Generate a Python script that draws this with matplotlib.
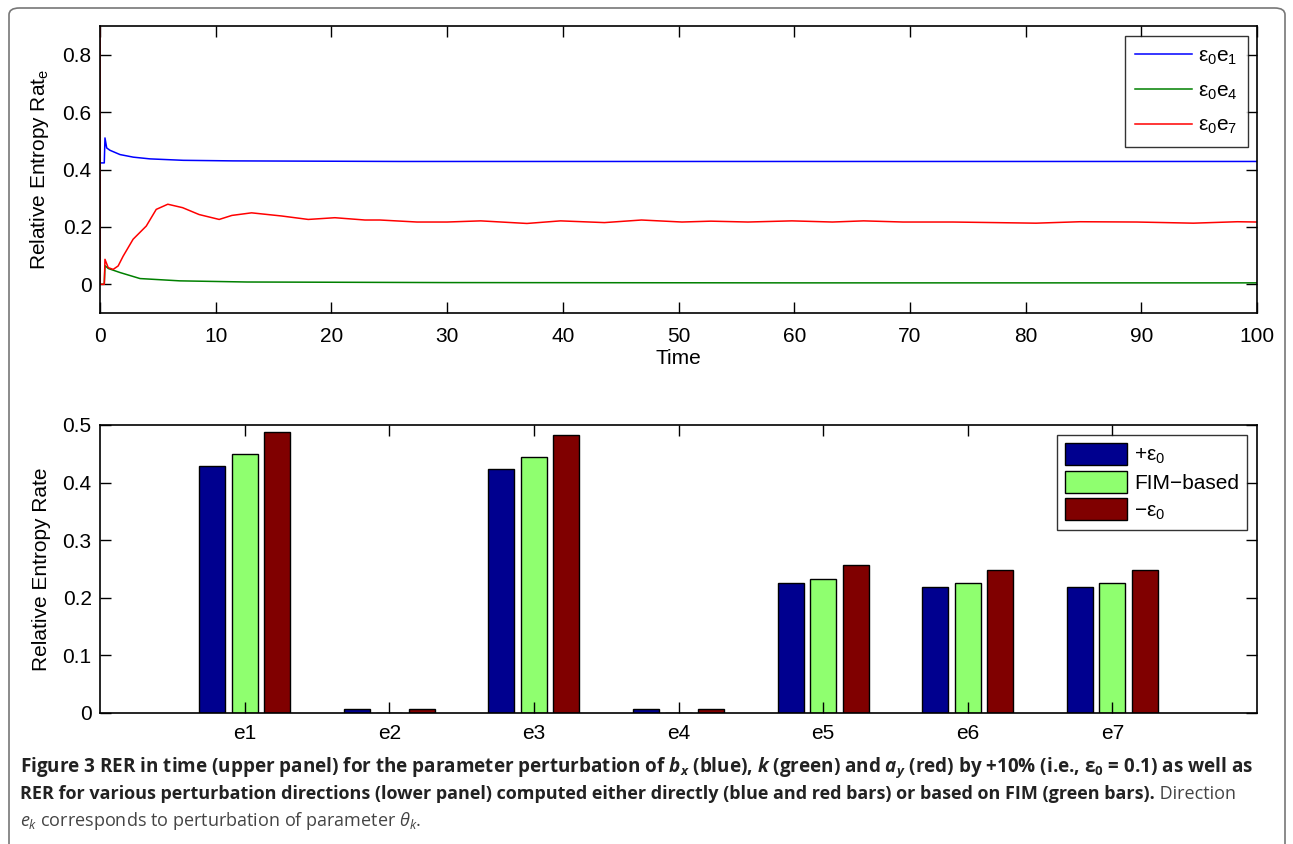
import numpy as np
import matplotlib
matplotlib.use("Agg")
import matplotlib.pyplot as plt
from matplotlib.patches import FancyBboxPatch

plt.rcParams['font.family'] = ['Liberation Sans', 'DejaVu Sans']
plt.rcParams['mathtext.default'] = 'regular'
plt.rcParams['mathtext.fontset'] = 'custom'
plt.rcParams['mathtext.rm'] = 'Open Sans'
plt.rcParams['mathtext.it'] = 'Open Sans:italic'
plt.rcParams['mathtext.bf'] = 'Open Sans:bold'
plt.rcParams['mathtext.bfit'] = 'Open Sans:italic:bold'

# upper panel: RER in time
t_blue = [0, 0.37, 0.43, 0.58, 0.86, 1.73, 2.88, 4.32, 7.2, 11.5, 25.9, 50, 75, 100]
v_blue = [0.423, 0.423, 0.510, 0.475, 0.467, 0.452, 0.443, 0.437, 0.432, 0.430, 0.428, 0.428, 0.428, 0.428]

t_green = [0, 0.37, 0.43, 0.72, 1.73, 3.46, 6.9, 12.7, 30, 60, 100]
v_green = [0, 0, 0.065, 0.055, 0.041, 0.020, 0.012, 0.008, 0.006, 0.005, 0.005]

t_red = [0, 0.02, 0.37, 0.43, 0.71, 1.14, 1.57, 2.0, 2.86, 4.0, 4.86, 5.86, 7.14, 8.57,
         10.3, 11.4, 13.1, 15.7, 18.0, 20.3, 22.9, 24.2, 27.4, 30.0, 32.9, 36.9, 39.8,
         43.6, 46.8, 50.3, 52.8, 56.0, 59.8, 63.3, 66.0, 69.4, 73.7, 80.9, 84.7, 89.6,
         94.5, 98.3, 100]
v_red = [1.2, 0, 0, 0.087, 0.058, 0.052, 0.064, 0.098, 0.157, 0.203, 0.261, 0.279, 0.267,
         0.243, 0.226, 0.240, 0.249, 0.238, 0.226, 0.232, 0.224, 0.224, 0.217, 0.217, 0.221,
         0.212, 0.221, 0.215, 0.224, 0.217, 0.220, 0.217, 0.221, 0.217, 0.221, 0.217, 0.217,
         0.213, 0.218, 0.217, 0.213, 0.218, 0.217]

# lower panel: RER per perturbation direction
directions = ['e1', 'e2', 'e3', 'e4', 'e5', 'e6', 'e7']
rer_plus = [0.428, 0.007, 0.423, 0.007, 0.226, 0.218, 0.218]
rer_fim = [0.450, 0.0, 0.444, 0.0, 0.233, 0.225, 0.225]
rer_minus = [0.488, 0.007, 0.483, 0.007, 0.257, 0.248, 0.248]

fig = plt.figure(figsize=(12.93, 8.44), dpi=100)

# outer frame of the figure box
frame = FancyBboxPatch((9 / 1293, -0.05), 1276 / 1293, 1.05 - 8 / 844,
                       boxstyle="round,pad=0,rounding_size=0.008",
                       transform=fig.transFigure, fc='none', ec='#777777', lw=1.2)
fig.patches.append(frame)

tick_kw = dict(direction='in', length=8, width=1, labelsize=15,
               top=True, right=True)

ax1 = fig.add_axes([100 / 1293, 1 - 313 / 844, 1157 / 1293, 287 / 844])
ax1.plot(t_blue, v_blue, color='#0000ff', lw=1.1, label='ε$_0$e$_1$')
ax1.plot(t_green, v_green, color='#008000', lw=1.1, label='ε$_0$e$_4$')
ax1.plot(t_red, v_red, color='#ff0000', lw=1.1, label='ε$_0$e$_7$')
ax1.set_xlim(0, 100)
ax1.set_ylim(-0.1, 0.9)
ax1.set_xticks(np.arange(0, 101, 10))
ax1.set_yticks([0, 0.2, 0.4, 0.6, 0.8])
ax1.set_yticklabels(['0', '0.2', '0.4', '0.6', '0.8'])
ax1.tick_params(axis='x', pad=10, **tick_kw)
ax1.tick_params(axis='y', pad=6, **tick_kw)
ax1.set_xlabel('Time', fontsize=15, labelpad=2)
ax1.set_ylabel('Relative Entropy Rat$_e$', fontsize=15, labelpad=8)
leg1 = ax1.legend(loc='upper right', fontsize=15, frameon=True, fancybox=False,
                  edgecolor='black', handlelength=2.7, borderpad=0.5, labelspacing=0.7,
                  handletextpad=0.3, borderaxespad=0,
                  bbox_to_anchor=((1248 - 100) / 1157, (313 - 36) / 287))
leg1.get_frame().set_linewidth(1)
for sp in ax1.spines.values():
    sp.set_linewidth(1.2)

ax2 = fig.add_axes([100 / 1293, 1 - 713 / 844, 1157 / 1293, 288 / 844])
x = np.arange(1, len(directions) + 1)
w = 0.18
ax2.bar(x - 0.225, rer_plus, w, color='#00008f', edgecolor='black', lw=1, label='+ε$_0$')
ax2.bar(x, rer_fim, w, color='#8fff6f', edgecolor='black', lw=1, label='FIM\u2212based')
ax2.bar(x + 0.225, rer_minus, w, color='#800000', edgecolor='black', lw=1, label='\u2212ε$_0$')
ax2.set_xlim(0, 8)
ax2.set_ylim(0, 0.5)
ax2.set_xticks(x)
ax2.set_xticklabels(directions)
ax2.set_yticks([0, 0.1, 0.2, 0.3, 0.4, 0.5])
ax2.set_yticklabels(['0', '0.1', '0.2', '0.3', '0.4', '0.5'])
ax2.tick_params(axis='x', pad=8, **tick_kw)
ax2.tick_params(axis='y', pad=6, **tick_kw)
ax2.set_ylabel('Relative Entropy Rate', fontsize=15, labelpad=8)
leg2 = ax2.legend(loc='upper right', fontsize=15, frameon=True, fancybox=False,
                  edgecolor='black', handlelength=3.0, handleheight=1.25,
                  borderpad=0.38, labelspacing=0.24, handletextpad=0.33, borderaxespad=0,
                  bbox_to_anchor=((1247 - 100) / 1157, (713 - 435) / 288))
leg2.get_frame().set_linewidth(1)
for sp in ax2.spines.values():
    sp.set_linewidth(1.2)

# caption
cap_font = ['Open Sans', 'DejaVu Sans']
x0 = 20 / 1293
fig.text(x0, 1 - 772 / 844,
         r'Figure 3 RER in time (upper panel) for the parameter perturbation of $\mathbfit{b_x}$ (blue), '
         r'$\mathbfit{k}$ (green) and $\mathbfit{a_y}$ (red) by +10% (i.e., $\epsilon_0$ = 0.1) as well as',
         family=cap_font, fontsize=13.6, fontweight='bold', color='#222222', va='baseline')
t2 = fig.text(x0, 1 - 799 / 844,
              'RER for various perturbation directions (lower panel) computed either directly '
              '(blue and red bars) or based on FIM (green bars).',
              family=cap_font, fontsize=13.0, fontweight='bold', color='#222222', va='baseline')
fig.text(x0, 1 - 826 / 844, r'$\mathit{e_k}$ corresponds to perturbation of parameter $\mathit{\theta_k}$.',
         family=cap_font, fontsize=13.0, color='#444444', va='baseline')

# place the regular-weight tail right after the bold part of line 2
fig.canvas.draw()
bb = t2.get_window_extent()
fig.text(bb.x1 / fig.bbox.width, 1 - 799 / 844, ' Direction', family=cap_font,
         fontsize=13.0, color='#444444', va='baseline')

fig.savefig('out.png', dpi=100)
